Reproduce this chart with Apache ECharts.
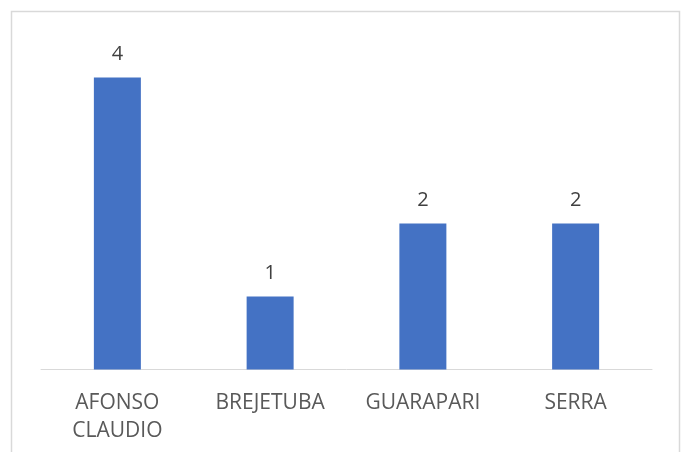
<!DOCTYPE html>
<html>
<head>
<meta charset="utf-8">
<script src="https://cdn.jsdelivr.net/npm/echarts@6/dist/echarts.min.js"></script>
<style>
  html, body { margin: 0; padding: 0; background: #fff; }
  #chart { width: 684px; height: 452px; }
</style>
</head>
<body>
<div id="chart"></div>
<script>
// dados
var cidades = ['AFONSO\nCLAUDIO', 'BREJETUBA', 'GUARAPARI', 'SERRA']
var valores = [4, 1, 2, 2]

var chart = echarts.init(document.getElementById('chart'))
var fonte = "'Open Sans', sans-serif"
chart.setOption({
  animation: false,
  graphic: [{
    type: 'rect',
    shape: {x: 11.5, y: 11.5, width: 668, height: 500},
    style: {fill: 'none', stroke: '#d9d9d9', lineWidth: 1.5},
    silent: true
  }],
  grid: {left: 41, right: 32, top: 77.5, bottom: 82.5},
  xAxis: {
    type: 'category',
    data: cidades,
    axisLine: {lineStyle: {color: '#d9d9d9', width: 1}},
    axisTick: {show: false},
    axisLabel: {
      color: '#595959',
      fontFamily: fonte,
      fontSize: 21,
      lineHeight: 28.5,
      margin: 19,
      interval: 0
    }
  },
  yAxis: {
    type: 'value',
    min: 0,
    max: 4,
    show: false
  },
  series: [{
    type: 'bar',
    data: valores,
    barWidth: 47,
    itemStyle: {color: '#4472c4'},
    label: {
      show: true,
      position: 'top',
      distance: 13,
      color: '#404040',
      fontFamily: fonte,
      fontSize: 20
    }
  }]
})
</script>
</body>
</html>
